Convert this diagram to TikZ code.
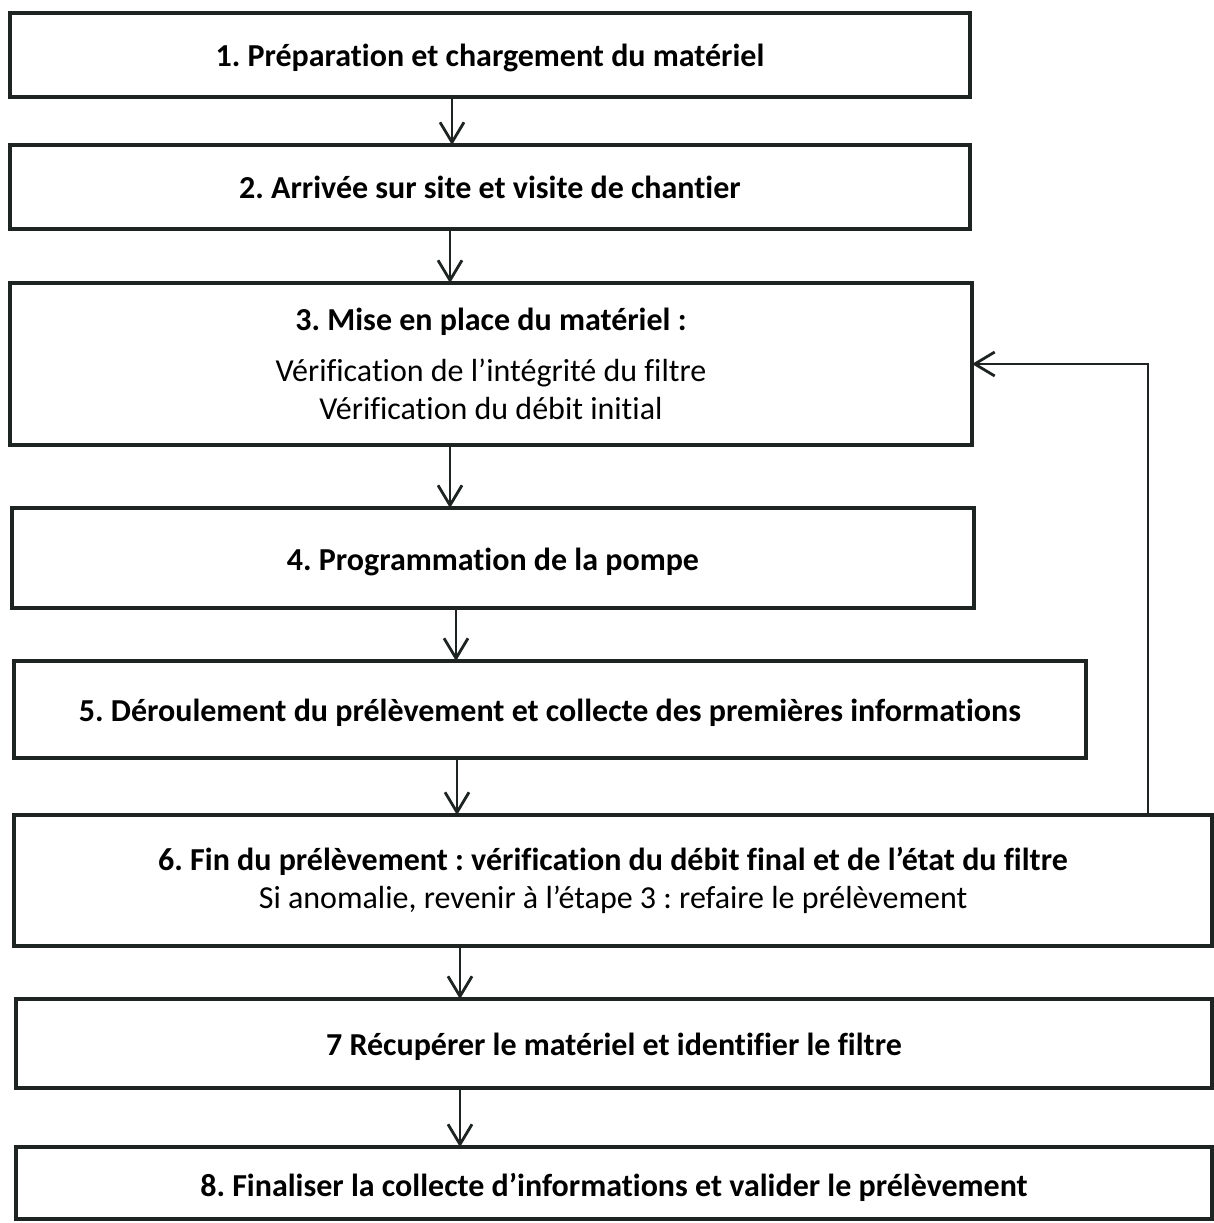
\documentclass[tikz,border=0pt]{standalone}
\usepackage{fontspec}
\setmainfont[Ligatures=NoCommon]{Carlito}
\usetikzlibrary{arrows.meta}
\definecolor{ink}{HTML}{1E2422}
\frenchspacing
\newcommand{\lowtxt}[2]{\raisebox{-#1pt}[\height][\depth]{\textbf{#2}}}
\tikzset{
  box/.style={draw=ink, line width=3.5pt, rectangle, inner sep=0pt, outer sep=0pt,
    align=center, font=\fontsize{32}{38}\selectfont},
  arr/.style={draw=ink, line width=2.8pt, -{Straight Barb[length=20pt,width=24pt,line width=2.8pt]}}
}
\begin{document}
\begin{tikzpicture}[x=1pt,y=-1pt]
\useasboundingbox (0,0) rectangle (1214,1223);
\node[box, minimum width=960pt, minimum height=84pt] (b1) at (490,55) {\lowtxt{3}{1. Préparation et chargement du matériel}};
\node[box, minimum width=960pt, minimum height=84pt] (b2) at (490,187) {\lowtxt{0}{2. Arrivée sur site et visite de chantier}};
\node[box, minimum width=962pt, minimum height=162pt] (b3) at (491,364) {\textbf{3. Mise en place du matériel :}\\[13pt] Vérification de l’intégrité du filtre\\ Vérification du débit initial};
\node[box, minimum width=962pt, minimum height=100pt] (b4) at (493,558) {\lowtxt{4}{4. Programmation de la pompe}};
\node[box, minimum width=1072pt, minimum height=97pt] (b5) at (550,709.5) {\lowtxt{3}{5. Déroulement du prélèvement et collecte des premières informations}};
\node[box, minimum width=1198pt, minimum height=131pt] (b6) at (613,880.5) {\textbf{6. Fin du prélèvement : vérification du débit final et de l’état du filtre}\\ Si anomalie, revenir à l’étape 3 : refaire le prélèvement};
\node[box, minimum width=1196pt, minimum height=89pt] (b7) at (614,1043.5) {\lowtxt{3}{7 Récupérer le matériel et identifier le filtre}};
\node[box, minimum width=1196pt, minimum height=72pt] (b8) at (614,1183) {\lowtxt{4}{8. Finaliser la collecte d’informations et valider le prélèvement}};
\coordinate (xa) at (452,0);
\coordinate (xb) at (450,0);
\coordinate (xc) at (456,0);
\coordinate (xd) at (457,0);
\coordinate (xe) at (460,0);
\coordinate (xf) at (1148,0);
\draw[arr] (b1.south -| xa) -- (b2.north -| xa);
\draw[arr] (b2.south -| xb) -- (b3.north -| xb);
\draw[arr] (b3.south -| xb) -- (b4.north -| xb);
\draw[arr] (b4.south -| xc) -- (b5.north -| xc);
\draw[arr] (b5.south -| xd) -- (b6.north -| xd);
\draw[arr] (b6.south -| xe) -- (b7.north -| xe);
\draw[arr] (b7.south -| xe) -- (b8.north -| xe);
\draw[arr] (b6.north -| xf) |- (b3.east);
\end{tikzpicture}
\end{document}
